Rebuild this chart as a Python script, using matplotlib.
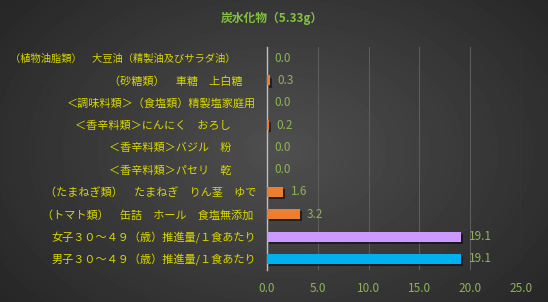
import matplotlib.pyplot as plt
import matplotlib.patheffects as pe
import numpy as np

plt.rcParams['font.family'] = ['Noto Sans CJK JP', 'DejaVu Sans']

labels = ['（植物油脂類）　大豆油（精製油及びサラダ油）　　',
          '（砂糖類）　車糖　上白糖　 ',
          '＜調味料類＞（食塩類）精製塩家庭用',
          '＜香辛料類＞にんにく　おろし　　 ',
          '＜香辛料類＞バジル　粉　　 ',
          '＜香辛料類＞パセリ　乾　　 ',
          '（たまねぎ類）　たまねぎ　りん茎　ゆで',
          '（トマト類）　缶詰　ホール　食塩無添加 ',
          '女子３０～４９（歳）推進量/１食あたり',
          '男子３０～４９（歳）推進量/１食あたり']
values = [0.0, 0.3, 0.0, 0.2, 0.0, 0.0, 1.6, 3.2, 19.1, 19.1]
colors = ['#ED7D31'] * 8 + ['#CC99FF', '#00B0F0']
xticks = [0, 5, 10, 15, 20, 25]

W, H = 548, 302
fig = plt.figure(figsize=(W / 100, H / 100), dpi=100)

# radial gradient background
bg = fig.add_axes([0, 0, 1, 1])
yy, xx = np.mgrid[0:H, 0:W]
r = np.sqrt(((xx - 280) / 330.0) ** 2 + ((yy - 150) / 230.0) ** 2)
shade = np.clip(0.31 - 0.15 * r, 0.15, 0.31)
bg.imshow(shade, cmap='gray', vmin=0, vmax=1, aspect='auto')
bg.axis('off')

ax = fig.add_axes([267 / W, 1 - 270 / H, (521 - 267) / W, (270 - 47) / H])
ax.patch.set_alpha(0)
y = np.arange(len(labels))
bars = ax.barh(y, values, height=0.45, color=colors, zorder=3)
for b in bars:
    b.set_path_effects([pe.SimplePatchShadow(offset=(1.5, -1.5), shadow_rgbFace='black', alpha=0.5), pe.Normal()])

ax.set_ylim(len(labels) - 0.5, -0.5)
ax.set_xlim(0, 25)
ax.set_xticks(xticks)
ax.set_xticklabels([f'{t:.1f}' for t in xticks], color='#8DB356', fontsize=8.5)
ax.set_yticks(y)
ax.set_yticklabels(labels, color='#D8D800', fontsize=8.0)
ax.get_yticklabels()[0].set_fontsize(7.4)
ax.tick_params(length=0, pad=8)
ax.tick_params(axis='x', pad=9)
ax.grid(axis='x', color='#5c5c5c', linewidth=0.8, zorder=0)
for s in ['top', 'right', 'bottom']:
    ax.spines[s].set_visible(False)
ax.spines['left'].set_color('#bfbfbf')
ax.spines['left'].set_linewidth(1)

for yi, v in zip(y, values):
    ax.text(v + 0.75, yi, f'{v:.1f}', va='center', ha='left', color='#8DB356', fontsize=8.5, zorder=4)

fig.text(272 / W, 1 - 18 / H, '炭水化物（5.33g）', ha='center', va='center', color='#82C040', fontsize=8.5, fontweight='bold')

fig.savefig('out.png', dpi=100)
